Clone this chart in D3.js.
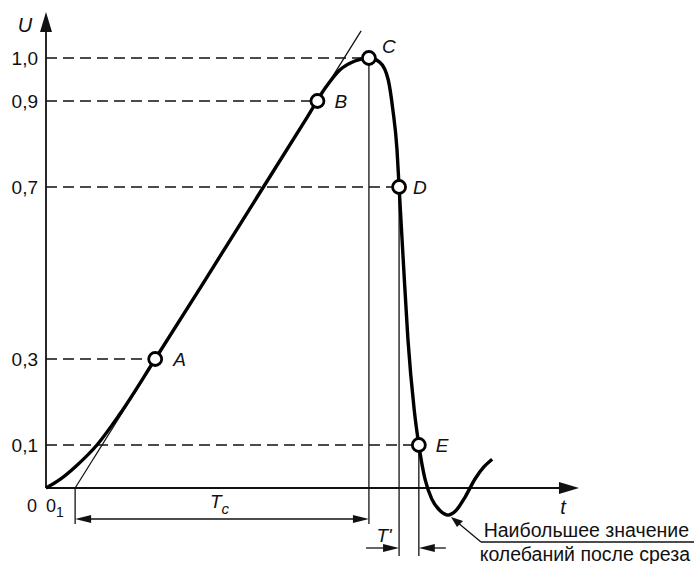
<!DOCTYPE html>
<html>
<head>
<meta charset="utf-8">
<script src="https://cdn.jsdelivr.net/npm/d3@7"></script>
<style>
  body { margin: 0; background: #fff; }
  svg text { font-family: "Liberation Sans", Arial, sans-serif; fill: #111; }
</style>
</head>
<body>
<svg id="chart" width="698" height="564"></svg>
<script>
// voltage level ticks on the U axis
var tickValues = [0.1, 0.3, 0.7, 0.9, 1.0];
var tickLabels = ['0,1', '0,3', '0,7', '0,9', '1,0'];

// pulse waveform (t in arbitrary units, U relative)
var curveT = [0, 2.7, 5.6, 9.8, 14.2, 21.0, 30.0, 40.0, 50.0, 53.7, 56.5, 59.4, 62.1, 64.2, 65.8, 66.7, 67.5, 67.9,
              68.7, 69.6, 70.8, 71.7, 72.9, 74.2, 75.8, 77.3, 78.8, 80.6, 82.5, 84.2, 85.8];
var curveU = [0, 0.02, 0.049, 0.1, 0.172, 0.3, 0.472, 0.665, 0.858, 0.93, 0.972, 0.993, 1.0, 0.99, 0.95, 0.88, 0.787, 0.7,
              0.53, 0.346, 0.183, 0.1, 0.02, -0.026, -0.053, -0.063, -0.053, -0.021, 0.021, 0.049, 0.067];

// marked points
var pointNames = ['A', 'B', 'C', 'D', 'E'];
var pointT = [21.0, 52.2, 62.1, 67.9, 71.7];
var pointU = [0.3, 0.9, 1.0, 0.7, 0.1];

// tangent through A and B, crossing the t axis at 0_1
var tangentT = [5.6, 60.6];
var tangentU = [0, 1.063];

var svg = d3.select('#chart');
var x = d3.scaleLinear().domain([0, 100]).range([46, 566]);
var y = d3.scaleLinear().domain([0, 1]).range([488, 58]);

var thin = 1.3;

function line(g, x1, y1, x2, y2, w, dash) {
  var l = g.append('line').attr('x1', x1).attr('y1', y1).attr('x2', x2).attr('y2', y2)
    .attr('stroke', '#111').attr('stroke-width', w || thin);
  if (dash) l.attr('stroke-dasharray', dash);
  return l;
}

// filled arrow head, tip at (tx,ty), dir = 'up' | 'right' | 'left'
function arrow(g, tx, ty, dir, len, half) {
  var p;
  if (dir === 'up') p = [[tx, ty], [tx - half, ty + len], [tx + half, ty + len]];
  else if (dir === 'right') p = [[tx, ty], [tx - len, ty - half], [tx - len, ty + half]];
  else p = [[tx, ty], [tx + len, ty - half], [tx + len, ty + half]];
  g.append('path').attr('d', 'M' + p.join('L') + 'Z').attr('fill', '#111');
}

var g = svg.append('g');

// axes
line(g, x(0), y(0), x(0), 22, 1.8);
arrow(g, x(0), 12, 'up', 20, 6);
line(g, x(0), y(0), 570, y(0), 1.8);
arrow(g, 579, y(0), 'right', 20, 6);

g.append('text').attr('x', 25).attr('y', 32).attr('text-anchor', 'middle')
  .attr('font-size', 20).attr('font-style', 'italic').text('U');
g.append('text').attr('x', 563).attr('y', 514).attr('text-anchor', 'middle')
  .attr('font-size', 20).attr('font-style', 'italic').text('t');

// tick labels
tickValues.forEach(function(v, i) {
  g.append('text').attr('x', 38).attr('y', y(v) + 7).attr('text-anchor', 'end')
    .attr('font-size', 19).text(tickLabels[i]);
});
g.append('text').attr('x', 32).attr('y', 512).attr('text-anchor', 'middle')
  .attr('font-size', 18).text('0');
var o1 = g.append('text').attr('x', 46).attr('y', 512).attr('font-size', 18);
o1.append('tspan').text('0');
o1.append('tspan').attr('font-size', 14).attr('dy', 5).text('1');

// dashed level lines to the marked points
pointNames.forEach(function(n, i) {
  line(g, x(0), y(pointU[i]), x(pointT[i]) - 7, y(pointU[i]), thin, '11,6');
});

// tangent
line(g, x(tangentT[0]), y(tangentU[0]), x(tangentT[1]), y(tangentU[1]), thin);

// vertical reference lines
var cT = pointT[2], dT = pointT[3], eT = pointT[4];
line(g, x(tangentT[0]), y(0), x(tangentT[0]), 524, thin);
line(g, x(cT), y(1.0), x(cT), 524, thin);
line(g, x(dT), y(pointU[3]), x(dT), 556, thin);
line(g, x(eT), y(pointU[4]), x(eT), 556, thin);

// Tc dimension
var tcY = 519;
line(g, x(tangentT[0]) + 10, tcY, x(cT) - 10, tcY, thin);
arrow(g, x(tangentT[0]), tcY, 'left', 16, 4);
arrow(g, x(cT), tcY, 'right', 16, 4);
var tc = g.append('text').attr('x', 210).attr('y', 508).attr('font-size', 19).attr('font-style', 'italic');
tc.append('tspan').text('T');
tc.append('tspan').attr('font-size', 15).attr('dy', 6).text('c');

// T' dimension
var tpY = 548;
line(g, x(dT) - 33, tpY, x(dT) - 10, tpY, thin);
arrow(g, x(dT), tpY, 'right', 16, 4);
line(g, x(eT) + 10, tpY, x(eT) + 27, tpY, thin);
arrow(g, x(eT), tpY, 'left', 16, 4);
g.append('text').attr('x', 384).attr('y', 542).attr('text-anchor', 'middle')
  .attr('font-size', 19).attr('font-style', 'italic').text("T'");

// waveform
var curve = d3.line().x(function(d) { return x(d[0]); }).y(function(d) { return y(d[1]); })
  .curve(d3.curveMonotoneX);
g.append('path').datum(d3.zip(curveT, curveU)).attr('d', curve)
  .attr('fill', 'none').attr('stroke', '#000').attr('stroke-width', 3.4);

// marked points
var labelDx = [18, 17, 13, 14, 17];
var labelDy = [7, 7, -5, 7, 7];
pointNames.forEach(function(n, i) {
  g.append('circle').attr('cx', x(pointT[i])).attr('cy', y(pointU[i])).attr('r', 6.5)
    .attr('fill', '#fff').attr('stroke', '#000').attr('stroke-width', 2.8);
  g.append('text').attr('x', x(pointT[i]) + labelDx[i]).attr('y', y(pointU[i]) + labelDy[i])
    .attr('font-size', 19).attr('font-style', 'italic').text(n);
});

// annotation of the overshoot minimum
line(g, 481, 542, 457, 522, thin);
g.append('path').attr('d', 'M451,517L463,521L457,527Z').attr('fill', '#111');
line(g, 481, 542, 694, 542, thin);
g.append('text').attr('x', 689).attr('y', 537).attr('text-anchor', 'end')
  .attr('font-size', 19.5).text('Наибольшее значение');
g.append('text').attr('x', 690).attr('y', 561).attr('text-anchor', 'end')
  .attr('font-size', 19.5).text('колебаний после среза');
</script>
</body>
</html>
